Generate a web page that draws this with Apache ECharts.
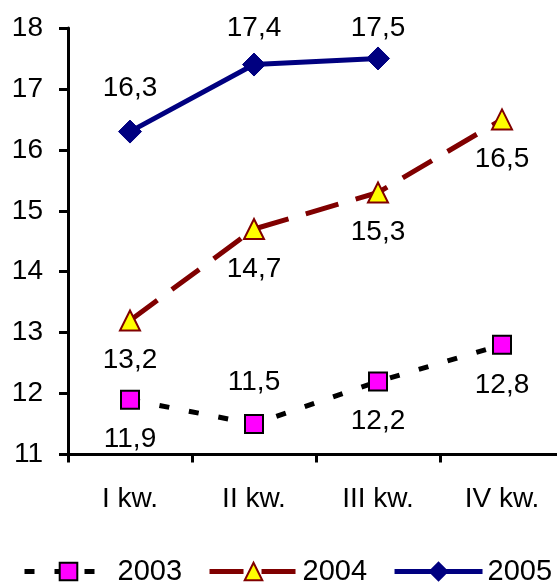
<!DOCTYPE html>
<html>
<head>
<meta charset="utf-8">
<script src="https://cdn.jsdelivr.net/npm/echarts@6/dist/echarts.min.js"></script>
<style>
html,body{margin:0;padding:0;background:#fff;overflow:hidden;}
#chart{width:564px;height:582px;}
</style>
</head>
<body>
<div id="chart"></div>
<script>
var categories = ['I kw.', 'II kw.', 'III kw.', 'IV kw.'];
var values2003 = [11.9, 11.5, 12.2, 12.8];
var values2004 = [13.2, 14.7, 15.3, 16.5];
var values2005 = [16.3, 17.4, 17.5];
var seriesNames = ['2003', '2004', '2005'];
var yMin = 11, yMax = 18, yStep = 1;

var FONT = "'Liberation Sans', Arial, sans-serif";
function fmt(p) { return String(p.value).replace('.', ','); }

var chart = echarts.init(document.getElementById('chart'), null, {renderer: 'canvas'});

var data2003 = values2003.map(function (v, i) {
  return i === 1 ? {value: v, label: {position: 'top', distance: 18}} : v;
});

chart.setOption({
  animation: false,
  backgroundColor: '#ffffff',
  textStyle: {fontFamily: FONT},
  grid: {left: 68, right: 0, top: 28, bottom: 127.5, containLabel: false},
  legend: {
    data: seriesNames,
    left: 22,
    top: 557,
    width: 540,
    padding: 0,
    itemWidth: 88,
    itemHeight: 22,
    itemGap: 25,
    lineStyle: {width: 5},
    textStyle: {fontSize: 29, color: '#000', fontFamily: FONT}
  },
  xAxis: {
    type: 'category',
    data: categories,
    boundaryGap: true,
    axisLine: {lineStyle: {color: '#000', width: 3}},
    axisTick: {show: true, length: 8, lineStyle: {color: '#000', width: 3}},
    axisLabel: {fontSize: 28, color: '#000', margin: 31, fontFamily: FONT},
    splitLine: {show: false}
  },
  yAxis: {
    type: 'value',
    min: yMin, max: yMax, interval: yStep,
    axisLine: {show: true, lineStyle: {color: '#000', width: 3}},
    axisTick: {show: true, length: 9, lineStyle: {color: '#000', width: 3}},
    axisLabel: {fontSize: 28, color: '#000', margin: 25, fontFamily: FONT},
    splitLine: {show: false}
  },
  series: [
    {
      name: '2003', type: 'line', data: data2003,
      symbol: 'rect', symbolSize: 18,
      lineStyle: {color: '#000', width: 5, type: [10, 20]},
      itemStyle: {color: '#FF00FF', borderColor: '#000', borderWidth: 2},
      label: {show: true, position: 'bottom', distance: 16, fontSize: 28, color: '#000', formatter: fmt, fontFamily: FONT},
      z: 3
    },
    {
      name: '2004', type: 'line', data: values2004,
      symbol: 'triangle', symbolSize: 20,
      lineStyle: {color: '#800000', width: 5, type: [34, 18]},
      itemStyle: {color: '#FFFF00', borderColor: '#800000', borderWidth: 2},
      label: {show: true, position: 'bottom', distance: 15, fontSize: 28, color: '#000', formatter: fmt, fontFamily: FONT},
      z: 4
    },
    {
      name: '2005', type: 'line', data: values2005,
      symbol: 'diamond', symbolSize: 23,
      lineStyle: {color: '#000080', width: 5},
      itemStyle: {color: '#000080', borderColor: '#000080', borderWidth: 1},
      label: {show: true, position: 'top', distance: 17, fontSize: 28, color: '#000', formatter: fmt, fontFamily: FONT},
      labelLayout: function (p) {
        var minTop = 14;
        return p.labelRect.y < minTop ? {dy: minTop - p.labelRect.y} : {};
      },
      z: 5
    }
  ]
});
</script>
</body>
</html>
